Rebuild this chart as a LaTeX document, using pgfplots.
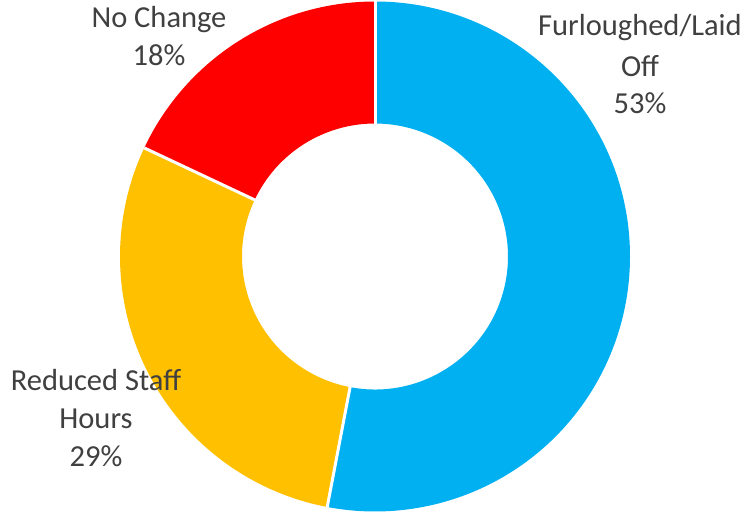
\documentclass[border=0pt]{standalone}
\usepackage{fontspec}
\setmainfont{Carlito}
\usepackage{pgfplots}
\usepackage{pgfplotstable}
\pgfplotsset{compat=1.18}
\definecolor{cBlue}{HTML}{00B0F0}
\definecolor{cYellow}{HTML}{FFC000}
\definecolor{cRed}{HTML}{FF0000}
\definecolor{cText}{HTML}{404040}
\pgfplotstableread{
label value
Furloughed 53
Reduced 29
NoChange 18
}\datatable
\pgfplotstablegetelem{0}{value}\of\datatable \let\vA\pgfplotsretval
\pgfplotstablegetelem{1}{value}\of\datatable \let\vB\pgfplotsretval
\pgfplotstablegetelem{2}{value}\of\datatable \let\vC\pgfplotsretval
\pgfmathsetmacro{\aA}{90}
\pgfmathsetmacro{\aB}{\aA-3.6*\vA}
\pgfmathsetmacro{\aC}{\aB-3.6*\vB}
\pgfmathsetmacro{\aD}{\aC-3.6*\vC}
\def\Ro{255pt}
\def\Ri{133pt}
\def\Rim{131pt}
\def\Rop{257pt}
\begin{document}
\begin{tikzpicture}
\begin{axis}[hide axis, scale only axis, width=748pt, height=511pt,
  xmin=0, xmax=748, ymin=0, ymax=511, clip=false]
\addplot[draw=none] coordinates {(0,0) (748,511)};
\fill[cBlue, shift={(axis cs:375,255.5)}] (\aA:\Ro) arc[start angle=\aA, end angle=\aB, radius=\Ro] -- (\aB:\Ri) arc[start angle=\aB, end angle=\aA, radius=\Ri] -- cycle;
\fill[cYellow, shift={(axis cs:375,255.5)}] (\aB:\Ro) arc[start angle=\aB, end angle=\aC, radius=\Ro] -- (\aC:\Ri) arc[start angle=\aC, end angle=\aB, radius=\Ri] -- cycle;
\fill[cRed, shift={(axis cs:375,255.5)}] (\aC:\Ro) arc[start angle=\aC, end angle=\aD, radius=\Ro] -- (\aD:\Ri) arc[start angle=\aD, end angle=\aC, radius=\Ri] -- cycle;
\draw[white, line width=3pt, shift={(axis cs:375,255.5)}] (\aA:\Rim) -- (\aA:\Ro);
\draw[white, line width=3pt, shift={(axis cs:375,255.5)}] (\aB:\Rim) -- (\aB:\Ro);
\draw[white, line width=3pt, shift={(axis cs:375,255.5)}] (\aC:\Rim) -- (\aC:\Ro);
\begin{scope}[every node/.style={text=cText, font=\fontsize{30.5}{36}\selectfont, anchor=base, inner sep=0pt}]
\node at (axis cs:640,476) {Furloughed/Laid};
\node at (axis cs:640,435) {Off};
\node at (axis cs:640,398) {53\%};
\node at (axis cs:159,484) {No Change};
\node at (axis cs:159,446) {18\%};
\node at (axis cs:96,121) {Reduced Staff};
\node at (axis cs:96,83) {Hours};
\node at (axis cs:96,45) {29\%};
\end{scope}
\end{axis}
\end{tikzpicture}
\end{document}
